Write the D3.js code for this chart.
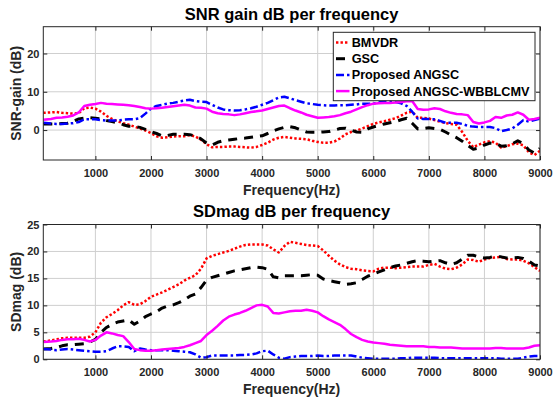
<!DOCTYPE html>
<html><head><meta charset="utf-8">
<script src="https://cdn.jsdelivr.net/npm/d3@7"></script>
<style>
body{margin:0;background:#fff}
svg text{font-family:"Liberation Sans",Arial,sans-serif;font-weight:bold}
</style>
</head><body>
<svg id="c" width="556" height="401"></svg>
<script>
// ---------------- data ----------------
const freq = [62.5,200,300,400,500,600,700,800,900,1000,
1100,1200,1300,1400,1500,1600,1700,1800,1900,2000,
2100,2200,2300,2400,2500,2600,2700,2800,2900,3000,
3100,3200,3300,3400,3500,3600,3700,3800,3900,4000,
4100,4200,4300,4400,4500,4600,4700,4800,4900,5000,
5100,5200,5300,5400,5500,5600,5700,5800,5900,6000,
6100,6200,6300,6400,6500,6600,6700,6800,6900,7000,
7100,7200,7300,7400,7500,7600,7700,7800,7900,8000,
8100,8200,8300,8400,8500,8600,8700,8800,8900,9000];

const seriesNames = ["BMVDR","GSC","Proposed ANGSC","Proposed ANGSC-WBBLCMV"];
const xTicks = [1000,2000,3000,4000,5000,6000,7000,8000,9000];
const snrTicks = [0,10,20];
const sdTicks = [0,5,10,15,20,25];

const snrBMVDR = [4.5,4.6,4.7,4.5,4.4,4.3,4.4,5.7,5.9,5.6,
4.8,3.7,2.9,2.3,1.8,1.4,0.9,0.4,-0.1,-0.8,
-1.6,-2.0,-1.9,-1.7,-1.6,-1.6,-1.3,-1.7,-2.5,-3.7,
-4.5,-4.4,-4.4,-4.3,-4.3,-4.4,-4.5,-4.6,-4.4,-3.9,
-3.3,-2.5,-2.0,-1.8,-2.0,-2.2,-2.3,-2.4,-2.8,-3.1,
-3.3,-3.3,-3.0,-2.2,-1.1,-0.5,-0.1,0.4,1.0,1.6,
2.0,2.3,2.7,3.1,3.8,4.5,4.8,3.2,3.2,3.0,
2.6,2.2,1.8,1.6,1.4,-0.5,-2.8,-4.5,-3.8,-3.2,
-2.9,-3.3,-4.6,-4.2,-3.7,-3.5,-4.0,-5.8,-6.5,-5.4];

const snrGSC = [1.6,1.6,1.6,1.7,1.8,2.3,2.9,3.1,3.2,3.1,
2.9,2.5,2.2,1.9,1.4,1.0,0.9,0.7,0.2,-0.4,
-0.9,-1.5,-1.4,-1.1,-1.1,-1.1,-1.2,-1.6,-2.3,-3.4,
-3.9,-3.2,-2.8,-2.6,-2.4,-2.2,-2.1,-1.9,-1.7,-1.5,
-0.9,-0.2,0.3,0.7,0.9,0.6,0.0,-0.5,-0.6,-0.6,
-0.5,-0.4,0.0,0.4,0.5,0.0,-0.5,-0.6,0.3,0.8,
1.2,1.6,1.9,2.2,2.7,3.1,1.8,0.3,0.4,0.6,
0.4,0.2,-0.5,-1.3,-2.0,-2.9,-4.0,-5.0,-4.7,-3.9,
-3.4,-3.5,-4.2,-4.1,-3.6,-2.8,-3.6,-5.2,-6.0,-4.8];

const snrANGSC = [1.9,1.7,1.6,1.6,1.7,1.8,2.1,2.8,2.8,2.8,
2.6,2.5,2.5,2.5,2.7,2.8,2.8,3.1,4.3,5.6,
6.3,6.6,6.9,7.1,7.4,7.7,7.9,7.6,7.4,7.3,
6.6,5.9,5.4,5.2,5.1,5.2,5.4,5.7,6.1,6.6,
7.1,7.8,8.5,8.7,8.3,7.8,7.4,7.0,6.8,6.6,
6.5,6.4,6.4,6.5,6.5,6.6,6.7,6.9,6.9,6.9,
7.2,7.5,7.5,7.3,7.0,6.3,4.8,3.0,2.9,2.9,
2.8,2.4,1.9,1.9,1.9,1.6,1.1,0.9,0.8,0.8,
0.8,0.5,-0.3,0.0,0.4,1.4,2.6,2.2,2.6,3.0];

const snrWBBLCMV = [2.7,2.9,3.2,3.3,3.5,3.8,4.6,6.3,6.6,6.8,
7.1,6.9,6.8,6.7,6.6,6.5,6.3,6.0,5.7,5.6,
5.7,5.8,6.0,6.2,6.4,6.6,6.4,5.9,5.8,5.6,
4.8,4.4,4.2,4.1,3.9,4.1,4.4,4.7,4.9,5.1,
5.5,5.9,6.3,6.4,5.7,5.1,4.6,4.0,3.6,3.2,
3.3,3.4,3.6,3.9,4.4,4.8,5.4,6.0,6.5,6.9,
7.0,7.1,7.1,7.2,7.3,7.5,7.6,5.5,5.3,5.4,
5.7,5.5,4.9,4.5,4.2,4.1,3.9,2.1,1.7,2.0,
2.4,3.4,3.2,3.8,4.0,4.6,4.0,2.7,2.9,3.2];

const sdBMVDR = [3.3,3.5,3.7,3.9,4.0,4.0,4.0,4.0,4.2,5.0,
6.8,7.8,8.4,9.1,10.0,10.6,10.1,10.2,10.8,11.6,
12.0,12.4,12.9,13.4,13.9,14.6,15.1,15.6,16.8,18.7,
19.2,19.5,19.8,20.1,20.5,20.9,21.2,21.3,21.3,21.3,
21.1,20.4,19.8,21.0,21.8,21.6,21.4,21.2,21.1,21.0,
20.2,19.2,18.3,17.6,17.1,16.8,16.7,16.5,16.4,16.3,
16.8,17.0,17.0,16.9,17.0,17.1,17.2,17.2,17.2,17.5,
17.7,17.2,16.8,16.7,17.0,17.6,18.5,18.4,18.1,18.5,
18.8,18.9,19.0,18.6,18.5,18.5,18.3,17.8,17.1,16.4];

const sdGSC = [1.9,2.0,2.2,2.5,2.7,2.7,2.8,2.9,3.2,3.7,
5.0,5.9,6.5,6.9,7.1,7.3,6.5,7.1,7.9,8.4,
8.8,9.5,9.9,10.1,10.5,11.0,11.7,12.1,13.3,14.7,
15.2,15.5,15.8,16.1,16.4,16.6,16.8,17.0,17.1,17.0,
16.7,15.3,15.1,15.5,15.5,15.5,15.5,15.6,15.7,15.6,
14.9,14.6,14.4,14.2,13.9,14.0,14.2,14.8,15.4,15.8,
16.2,16.6,17.0,17.3,17.5,17.8,18.1,18.3,18.2,18.1,
18.2,18.3,17.9,17.6,17.9,18.6,19.3,19.3,19.0,18.8,
18.9,19.1,19.0,18.8,18.8,18.9,18.7,18.2,17.5,17.3];

const sdANGSC = [1.9,1.8,1.7,1.8,1.9,1.8,1.7,1.6,1.5,1.4,
1.4,1.5,2.0,2.4,2.4,2.3,1.5,2.0,1.8,1.7,
1.7,1.7,1.7,1.6,1.5,1.4,1.3,0.9,0.3,0.4,
0.7,0.7,0.7,0.7,0.7,0.8,0.8,0.9,1.1,1.5,
1.6,0.9,0.3,0.1,0.4,0.5,0.6,0.6,0.6,0.7,
0.6,0.6,0.7,0.7,0.7,0.7,0.5,0.3,0.2,0.1,
0.1,0.1,0.1,0.1,0.2,0.2,0.3,0.3,0.3,0.3,
0.3,0.2,0.2,0.2,0.2,0.2,0.2,0.2,0.2,0.2,
0.2,0.2,0.1,0.1,0.1,0.1,0.3,0.5,0.6,0.6];

const sdWBBLCMV = [3.2,3.3,3.4,3.6,3.7,3.7,3.8,3.6,3.3,3.6,
4.4,5.0,4.8,4.5,4.3,3.2,1.9,1.7,1.6,1.6,
1.7,1.8,1.9,2.0,2.1,2.3,2.6,3.0,3.4,4.5,
5.3,6.2,7.2,7.9,8.3,8.6,9.0,9.5,10.0,10.1,
9.8,8.6,8.5,8.7,8.9,9.0,9.0,9.2,9.0,8.7,
8.0,7.4,6.9,6.4,5.6,4.7,4.1,3.6,3.3,3.1,
3.0,2.9,2.7,2.6,2.5,2.4,2.4,2.4,2.4,2.3,
2.3,2.2,2.2,2.2,2.1,2.0,2.0,2.0,2.0,2.0,
2.0,2.1,2.1,2.0,2.0,2.0,2.0,2.2,2.5,2.6];

// ---------------- styles ----------------
const styles = [
  {color:"#ff0000", width:2.5, dash:"2.4,2.1"},
  {color:"#000000", width:3,   dash:"9,7"},
  {color:"#0000ff", width:2.5, dash:"8,3,2.5,3"},
  {color:"#ff00ff", width:2.5, dash:null}
];

const svg = d3.select("#c");
const X0 = 43.3, X1 = 540;
const x = d3.scaleLinear().domain([62.5, 9000]).range([X0, X1]);

function panel(cfg, idx){
  const y = d3.scaleLinear().domain(cfg.yDomain).range([cfg.bottom, cfg.top]);
  const g = svg.append("g");
  const cid = "clip" + idx;
  svg.append("defs").append("clipPath").attr("id", cid)
    .append("rect").attr("x", X0).attr("y", cfg.top).attr("width", X1 - X0).attr("height", cfg.bottom - cfg.top);

  g.append("rect").attr("x", X0).attr("y", cfg.top).attr("width", X1 - X0).attr("height", cfg.bottom - cfg.top).attr("fill", "#fff");

  // grid
  g.append("g").selectAll("line").data(xTicks).join("line")
    .attr("x1", d => x(d)).attr("x2", d => x(d)).attr("y1", cfg.top).attr("y2", cfg.bottom)
    .attr("stroke", "#cfcfcf").attr("stroke-width", 1);
  g.append("g").selectAll("line").data(cfg.yTicks).join("line")
    .attr("y1", d => y(d)).attr("y2", d => y(d)).attr("x1", X0).attr("x2", X1)
    .attr("stroke", "#cfcfcf").attr("stroke-width", 1);

  // series
  const line = d3.line().x((d, i) => x(freq[i])).y(d => y(d));
  const sg = g.append("g").attr("clip-path", `url(#${cid})`);
  cfg.series.forEach((s, k) => {
    const st = styles[k];
    sg.append("path").attr("d", line(s)).attr("fill", "none")
      .attr("stroke", st.color).attr("stroke-width", st.width)
      .attr("stroke-dasharray", st.dash).attr("stroke-linejoin", "round");
  });

  // axes
  const ax = g.append("g").attr("transform", `translate(0,${cfg.bottom})`)
    .call(d3.axisBottom(x).tickValues(xTicks).tickSize(-4).tickPadding(8.7).tickFormat(d3.format("d")));
  const ay = g.append("g").attr("transform", `translate(${X0},0)`)
    .call(d3.axisLeft(y).tickValues(cfg.yTicks).tickSize(-4).tickPadding(3.8).tickFormat(d3.format("d")));
  g.append("g").attr("transform", `translate(0,${cfg.top})`)
    .call(d3.axisTop(x).tickValues(xTicks).tickSize(-4).tickFormat(""));
  g.append("g").attr("transform", `translate(${X1},0)`)
    .call(d3.axisRight(y).tickValues(cfg.yTicks).tickSize(-4).tickFormat(""));
  g.selectAll(".domain").remove();
  g.selectAll(".tick line").attr("stroke", "#262626");
  [ax, ay].forEach(a => a.selectAll("text").attr("fill", "#262626").style("font-size", "11px")
    .style("font-family", '"Liberation Sans",Arial,sans-serif').style("font-weight", "bold"));

  g.append("rect").attr("x", X0).attr("y", cfg.top).attr("width", X1 - X0).attr("height", cfg.bottom - cfg.top)
    .attr("fill", "none").attr("stroke", "#262626").attr("stroke-width", 1);

  // title & labels
  g.append("text").attr("x", (X0 + X1) / 2).attr("y", cfg.top - 7.2).attr("text-anchor", "middle")
    .style("font-size", "16.5px").attr("fill", "#000").text(cfg.title);
  g.append("text").attr("x", (X0 + X1) / 2).attr("y", cfg.bottom + 34.5).attr("text-anchor", "middle")
    .style("font-size", "14px").attr("fill", "#262626").text("Frequency(Hz)");
  g.append("text").attr("transform", `translate(20.5,${(cfg.top + cfg.bottom) / 2}) rotate(-90)`)
    .attr("text-anchor", "middle").style("font-size", "14px").attr("fill", "#262626").text(cfg.ylabel);

  if (cfg.legend) {
    const lg = g.append("g");
    lg.append("rect").attr("x", 333.3).attr("y", 32.3).attr("width", 201.7).attr("height", 68.4)
      .attr("fill", "#fff").attr("stroke", "#262626").attr("stroke-width", 1);
    seriesNames.forEach((n, k) => {
      const yy = 42.5 + k * 16.2;
      const st = styles[k];
      lg.append("line").attr("x1", 336).attr("x2", 349.5).attr("y1", yy).attr("y2", yy)
        .attr("stroke", st.color).attr("stroke-width", st.width).attr("stroke-dasharray", st.dash);
      lg.append("text").attr("x", 351.7).attr("y", yy + 4.5).style("font-size", "12.7px").attr("fill", "#000").text(n);
    });
  }
}

panel({top:26.7, bottom:160, yDomain:[-7.82, 27.0], yTicks:snrTicks,
  title:"SNR gain dB per frequency", ylabel:"SNR-gain (dB)", legend:true,
  series:[snrBMVDR, snrGSC, snrANGSC, snrWBBLCMV]}, 0);
panel({top:224.5, bottom:359.3, yDomain:[0, 25], yTicks:sdTicks,
  title:"SDmag dB per frequency", ylabel:"SDmag (dB)", legend:false,
  series:[sdBMVDR, sdGSC, sdANGSC, sdWBBLCMV]}, 1);
</script>
</body></html>
